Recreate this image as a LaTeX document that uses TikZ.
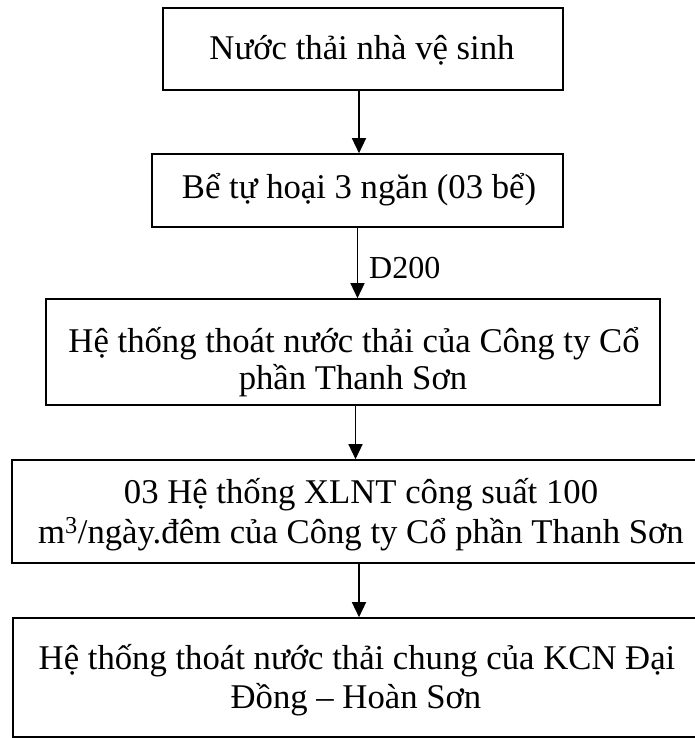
\documentclass[tikz,border=0pt]{standalone}
\usepackage{fontspec}
\setmainfont{Liberation Serif}
\usetikzlibrary{arrows.meta}
\begin{document}
\begin{tikzpicture}[x=1pt,y=-1pt,
  box/.style={draw, line width=1.6pt, inner sep=0pt},
  txt/.style={inner sep=0pt, anchor=base, font=\fontsize{34.7}{39}\selectfont},
  lbl/.style={inner sep=0pt, anchor=base west, font=\fontsize{32}{36}\selectfont},
  arr/.style={line width=1.4pt, -{Triangle[width=14pt,length=15pt]}}]
\useasboundingbox (0,0) rectangle (695,738);
\clip (0,0) rectangle (695,738);
% boxes
\node[box, minimum width=400pt, minimum height=82pt] (b1) at (363,49) {};
\node[box, minimum width=411pt, minimum height=73pt] (b2) at (357.5,190.5) {};
\node[box, minimum width=614pt, minimum height=106pt] (b3) at (353,352) {};
\node[box, minimum width=698pt, minimum height=103pt] (b4) at (361,511.5) {};
\node[box, minimum width=687pt, minimum height=119pt] (b5) at (356.5,677.5) {};
% texts
\node[txt] (t1) at (362,60) {Nước thải nhà vệ sinh};
\node[txt] (t2) at (359,198) {Bể tự hoại 3 ngăn (03 bể)};
\node[txt] (t3a) at (354,352) {Hệ thống thoát nước thải của Công ty Cổ};
\node[txt] (t3b) at (353,389) {phần Thanh Sơn};
\node[txt] (t4a) at (361,503) {03 Hệ thống XLNT công suất 100};
\node[txt] (t4b) at (361,543) {m\textsuperscript{3}/ngày.đêm của Công ty Cổ phần Thanh Sơn};
\node[txt] (t5a) at (357,669) {Hệ thống thoát nước thải chung của KCN Đại};
\node[txt] (t5b) at (356,708) {Đồng – Hoàn Sơn};
% arrows
\draw[arr] ([xshift=-4pt]b1.south) -- ([xshift=-4pt]b1.south |- b2.north);
\draw[arr] (b2.south) -- (b2.south |- b3.north) node[lbl, pos=0.5, xshift=11pt, yshift=-15pt] (d200) {D200};
\draw[arr] ([xshift=2.5pt]b3.south) -- ([xshift=2.5pt]b3.south |- b4.north);
\draw[arr] ([xshift=-2pt]b4.south) -- ([xshift=-2pt]b4.south |- b5.north);
\end{tikzpicture}
\end{document}
